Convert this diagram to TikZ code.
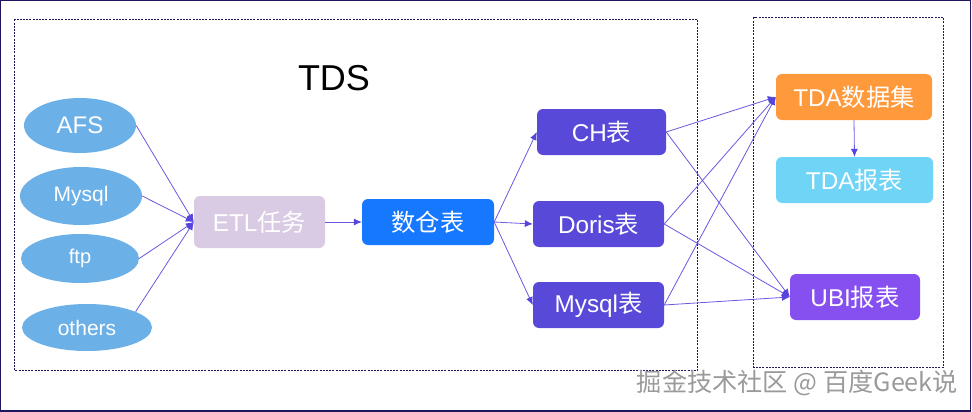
\documentclass[tikz,border=0pt]{standalone}
\usepackage{fontspec}
\setmainfont{Liberation Sans}
\newfontfamily\cjk{Noto Sans CJK SC}
\usetikzlibrary{arrows.meta,shapes.geometric}
\definecolor{frameC}{HTML}{1F1660}
\definecolor{lineC}{HTML}{6A58E0}
\definecolor{tipC}{HTML}{5545DC}
\definecolor{ellC}{HTML}{6CB0E8}
\definecolor{etlC}{HTML}{D9CBE3}
\definecolor{dwC}{HTML}{1677FF}
\definecolor{tblC}{HTML}{5849D8}
\definecolor{tdaC}{HTML}{FF9A3C}
\definecolor{repC}{HTML}{6FD4F6}
\definecolor{ubiC}{HTML}{8650F0}
\definecolor{markC}{HTML}{9A9A9A}
\tikzset{
  x=1pt,y=-1pt,
  groupbox/.style={draw=frameC,line width=0.8pt,dash pattern=on 2pt off 1.2pt},
  srcell/.style={ellipse,fill=ellC,draw=none,inner sep=0pt,text=white},
  rbox/.style={rounded corners=6pt,draw=none,inner sep=0pt,text=white,font=\fontsize{24.3}{26}\selectfont},
  conn/.style={draw=lineC,line width=0.8pt,-{Latex[length=8pt,width=7pt,color=tipC]}},
}
\begin{document}
\begin{tikzpicture}
\useasboundingbox (0,0) rectangle (972,412);
\draw[frameC,line width=1.2pt] (0.6,0.6) rectangle (970.6,411);
\draw[groupbox] (14.5,19.5) rectangle (697.5,370.5);
\draw[groupbox] (753.5,17.5) rectangle (943.5,367);
\node (tds) at (334,78) {\fontsize{36}{40}\selectfont TDS};
\node[srcell,minimum width=112pt,minimum height=55pt,font=\fontsize{24}{26}\selectfont] (afs) at (80,125.5) {AFS};
\node[srcell,minimum width=122pt,minimum height=58pt,font=\fontsize{21}{24}\selectfont] (mysql) at (81,196) {Mysql};
\node[srcell,minimum width=118pt,minimum height=49pt,font=\fontsize{20}{24}\selectfont] (ftp) at (80,258.5) {ftp};
\node[srcell,minimum width=130pt,minimum height=47pt,font=\fontsize{21}{24}\selectfont] (others) at (87,327.5) {others};
\node[rbox,fill=etlC,minimum width=131pt,minimum height=52pt] (etl) at (259.5,222) {ETL{\cjk 任务}};
\node[rbox,fill=dwC,minimum width=132pt,minimum height=46pt] (dw) at (428,222) {\cjk 数仓表};
\node[rbox,fill=tblC,minimum width=129pt,minimum height=46pt] (ch) at (601.5,132) {CH{\cjk 表}};
\node[rbox,fill=tblC,minimum width=131pt,minimum height=46pt] (doris) at (598.5,224) {Doris{\cjk 表}};
\node[rbox,fill=tblC,minimum width=131pt,minimum height=46pt] (mt) at (598.5,305) {Mysql{\cjk 表}};
\node[rbox,fill=tdaC,minimum width=156pt,minimum height=46pt] (tda) at (854,97) {TDA{\cjk 数据集}};
\node[rbox,fill=repC,minimum width=157pt,minimum height=46pt] (rep) at (854.5,180) {TDA{\cjk 报表}};
\node[rbox,fill=ubiC,minimum width=130pt,minimum height=46pt] (ubi) at (855,297) {UBI{\cjk 报表}};
\foreach \s in {afs,mysql,ftp}{\draw[conn] (\s.east) -- (etl.west);}
\draw[conn] (others.18) -- (etl.west);
\draw[conn] (etl.east) -- (dw.west);
\draw[conn] (dw.east) -- (ch.west);
\draw[conn] (dw.east) -- (doris.west);
\draw[conn] (dw.east) -- (mt.west);
\foreach \s in {ch,doris,mt}{
  \draw[conn] (\s.east) -- (tda.west);
  \draw[conn] (\s.east) -- (ubi.west);
}
\draw[conn] (tda.south) -- (rep.north);
\node[text=markC,inner sep=0pt,font=\fontsize{25.2}{27}\selectfont\cjk] (mark) at (797.5,383) {掘金技术社区 @ 百度Geek说};
\end{tikzpicture}
\end{document}
